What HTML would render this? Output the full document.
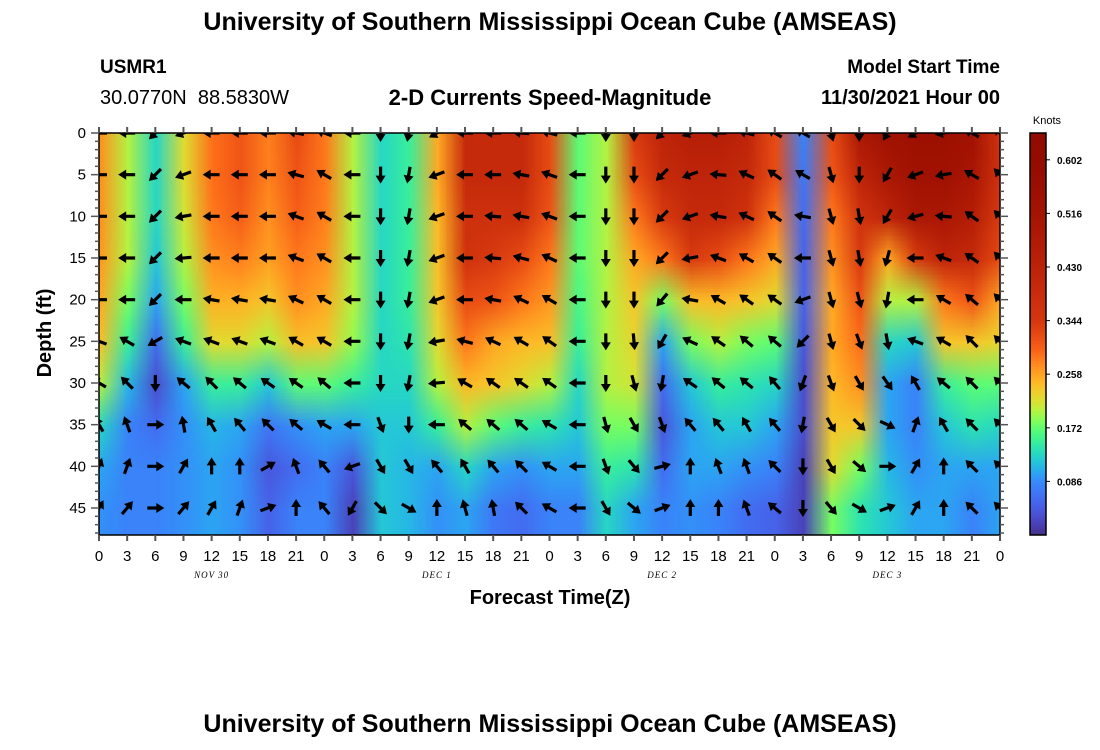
<!DOCTYPE html>
<html><head><meta charset="utf-8">
<style>
body{margin:0;background:#fff;width:1100px;height:750px;overflow:hidden;font-family:"Liberation Sans",sans-serif;}
#wrap{position:relative;width:1100px;height:750px;}
.t{position:absolute;white-space:nowrap;color:#000;}
</style></head><body>
<div id="wrap">
<div class="t" style="left:0;width:1100px;text-align:center;top:8px;font-size:25px;font-weight:bold;">University of Southern Mississippi Ocean Cube (AMSEAS)</div>
<div class="t" style="left:100px;top:57px;font-size:19px;font-weight:bold;">USMR1</div>
<div class="t" style="left:100px;top:87px;font-size:20px;">30.0770N&nbsp; 88.5830W</div>
<div class="t" style="left:0;width:1100px;text-align:center;top:85px;font-size:22px;font-weight:bold;">2-D Currents Speed-Magnitude</div>
<div class="t" style="right:100px;top:57px;font-size:19px;font-weight:bold;">Model Start Time</div>
<div class="t" style="right:100px;top:87px;font-size:20px;font-weight:bold;">11/30/2021 Hour 00</div>
<div class="t" style="left:0;width:1100px;text-align:center;top:710px;font-size:25px;font-weight:bold;">University of Southern Mississippi Ocean Cube (AMSEAS)</div>
<canvas id="heat" width="1100" height="750" style="position:absolute;left:0;top:0"></canvas>
<svg id="svg" width="1100" height="750" style="position:absolute;left:0;top:0"></svg>
</div>
<script>
const hours=[0,3,6,9,12,15,18,21,24,27,30,33,36,39,42,45,48,51,54,57,60,63,66,69,72,75,78,81,84,87,90,93,96];
const depths=[0,5,10,15,20,25,30,35,40,45];
const speed=[
[0.27,0.27,0.27,0.265,0.255,0.24,0.2,0.13,0.1,0.09],
[0.2,0.2,0.2,0.2,0.18,0.15,0.11,0.08,0.08,0.08],
[0.13,0.13,0.13,0.12,0.1,0.06,0.03,0.06,0.08,0.08],
[0.22,0.22,0.21,0.2,0.18,0.15,0.1,0.09,0.09,0.09],
[0.29,0.29,0.285,0.27,0.25,0.22,0.15,0.11,0.1,0.1],
[0.31,0.31,0.30,0.28,0.25,0.22,0.15,0.1,0.09,0.09],
[0.28,0.28,0.27,0.26,0.235,0.2,0.12,0.07,0.04,0.05],
[0.32,0.31,0.30,0.285,0.27,0.24,0.17,0.09,0.06,0.08],
[0.285,0.285,0.28,0.27,0.255,0.235,0.17,0.1,0.08,0.08],
[0.2,0.2,0.2,0.2,0.2,0.19,0.15,0.1,0.04,0.02],
[0.13,0.13,0.13,0.13,0.13,0.13,0.13,0.12,0.12,0.12],
[0.15,0.15,0.15,0.15,0.15,0.14,0.13,0.12,0.11,0.11],
[0.255,0.255,0.245,0.24,0.235,0.22,0.2,0.15,0.1,0.09],
[0.40,0.40,0.37,0.36,0.32,0.285,0.245,0.2,0.13,0.1],
[0.40,0.40,0.37,0.34,0.31,0.255,0.235,0.17,0.1,0.07],
[0.40,0.40,0.37,0.32,0.285,0.245,0.22,0.15,0.09,0.06],
[0.32,0.32,0.31,0.285,0.265,0.24,0.2,0.14,0.1,0.08],
[0.17,0.17,0.17,0.17,0.16,0.15,0.13,0.12,0.1,0.08],
[0.2,0.2,0.2,0.2,0.2,0.2,0.2,0.18,0.15,0.13],
[0.34,0.32,0.285,0.255,0.235,0.225,0.21,0.18,0.14,0.1],
[0.42,0.40,0.34,0.285,0.18,0.1,0.06,0.04,0.06,0.08],
[0.45,0.42,0.40,0.34,0.24,0.18,0.12,0.1,0.1,0.09],
[0.45,0.42,0.40,0.32,0.245,0.2,0.15,0.12,0.1,0.08],
[0.42,0.40,0.36,0.285,0.235,0.18,0.14,0.12,0.09,0.06],
[0.32,0.32,0.285,0.255,0.22,0.17,0.13,0.1,0.08,0.05],
[0.08,0.07,0.06,0.05,0.05,0.04,0.03,0.03,0.02,0.02],
[0.32,0.31,0.285,0.27,0.255,0.255,0.245,0.235,0.22,0.18],
[0.49,0.42,0.36,0.34,0.31,0.29,0.27,0.235,0.18,0.14],
[0.53,0.49,0.42,0.255,0.2,0.13,0.1,0.1,0.11,0.12],
[0.55,0.53,0.49,0.34,0.2,0.12,0.08,0.08,0.09,0.1],
[0.55,0.53,0.49,0.42,0.285,0.235,0.15,0.12,0.1,0.1],
[0.53,0.50,0.45,0.40,0.31,0.235,0.17,0.14,0.1,0.08],
[0.36,0.36,0.34,0.32,0.255,0.225,0.17,0.13,0.1,0.1]];
const direction=[
[270,270,270,270,270,290,300,330,20,30],
[270,270,270,270,270,300,315,340,20,40],
[225,225,225,225,225,240,180,90,90,90],
[250,250,260,265,270,290,310,350,30,40],
[270,270,270,270,280,290,315,330,0,30],
[270,270,270,270,280,290,310,320,0,20],
[270,270,270,270,280,290,305,315,60,70],
[280,285,290,290,295,300,305,310,340,0],
[290,300,300,300,300,300,310,300,320,320],
[270,270,270,270,270,270,270,270,250,210],
[180,180,180,180,180,180,180,160,150,135],
[190,190,190,190,190,190,190,180,150,120],
[240,250,250,250,250,260,265,270,320,0],
[270,270,270,270,270,285,300,310,330,345],
[270,270,275,275,280,295,305,310,320,350],
[275,280,280,285,295,300,305,310,315,315],
[285,290,290,295,300,305,305,300,300,300],
[270,270,270,270,270,270,270,270,270,270],
[180,180,180,180,180,180,180,165,160,150],
[180,180,180,180,180,175,165,150,140,130],
[225,225,225,225,220,210,190,160,75,70],
[250,250,250,260,280,295,305,320,0,0],
[270,275,280,290,300,305,310,320,340,0],
[285,295,295,300,305,310,310,330,340,340],
[300,305,305,305,305,310,320,320,315,310],
[300,300,280,270,250,225,200,190,180,180],
[165,165,165,165,165,165,160,150,150,140],
[180,180,170,170,165,160,150,135,130,120],
[210,210,210,195,190,170,145,115,90,70],
[240,250,255,270,270,290,330,20,30,30],
[260,260,275,290,300,300,310,330,0,0],
[300,300,305,305,310,315,315,315,315,315],
[315,315,315,315,315,315,315,315,315,315]];
const xTickLabels=["0","3","6","9","12","15","18","21"];
const yTicks=[0,5,10,15,20,25,30,35,40,45];
const dayLabels=["NOV 30","DEC 1","DEC 2","DEC 3"];
const cbTicks=[0.086,0.172,0.258,0.344,0.430,0.516,0.602];

const PX0=99,PX1=1000,PY0=133,PY1=535,DMAX=48.24,VMAX=0.645;
const x=h=>PX0+h/96*(PX1-PX0);
const y=d=>PY0+d/DMAX*(PY1-PY0);
function turbo(t){t=Math.max(0,Math.min(1,t));
 const r=34.61+t*(1172.33-t*(10793.56-t*(33300.12-t*(38394.49-t*14825.05))));
 const g=23.31+t*(557.33+t*(1225.33-t*(3574.96-t*(1073.77+t*707.56))));
 const b=27.2+t*(3211.1-t*(15327.97-t*(27814-t*(22569.18-t*6838.66))));
 return [r,g,b].map(v=>Math.max(0,Math.min(255,Math.round(v))));}
const KV=[0,0.086,0.13,0.172,0.21,0.258,0.30,0.344,0.645];
const KT=[0.04,0.17,0.3,0.43,0.58,0.7,0.8,0.86,0.99];
function col(v){v=Math.max(0,Math.min(VMAX,v));let i=0;while(i<KV.length-2&&v>KV[i+1])i++;
 const f=(v-KV[i])/(KV[i+1]-KV[i]);return turbo(KT[i]+f*(KT[i+1]-KT[i]));}

const cv=document.getElementById('heat'),ctx=cv.getContext('2d');
const nx=hours.length,ny=depths.length;
const off=document.createElement('canvas');off.width=nx;off.height=ny+1;
const oc=off.getContext('2d');const img=oc.createImageData(nx,ny+1);
for(let i=0;i<nx;i++)for(let j=0;j<=ny;j++){const c=col(speed[i][Math.min(j,ny-1)]);const k=(j*nx+i)*4;img.data[k]=c[0];img.data[k+1]=c[1];img.data[k+2]=c[2];img.data[k+3]=255;}
oc.putImageData(img,0,0);
ctx.save();ctx.beginPath();ctx.rect(PX0,PY0,PX1-PX0,PY1-PY0);ctx.clip();
ctx.imageSmoothingEnabled=true;
const dy=(depths[1]-depths[0]);
const srcH=ny-1+(DMAX-depths[ny-1])/dy;
ctx.drawImage(off,0.5,0.5,nx-1,srcH,x(hours[0]),y(depths[0]),x(hours[nx-1])-x(hours[0]),y(DMAX)-y(depths[0]));
ctx.restore();
const CBX=1030,CBW=16;
for(let p=PY0;p<PY1;p++){const v=(PY1-p)/(PY1-PY0)*VMAX;const c=col(v);ctx.fillStyle=`rgb(${c})`;ctx.fillRect(CBX,p,CBW,1);}

const S=document.getElementById('svg'),NS='http://www.w3.org/2000/svg';
function el(t,a,p){const e=document.createElementNS(NS,t);for(const k in a)e.setAttribute(k,a[k]);(p||S).appendChild(e);return e;}
const cp=el('clipPath',{id:'pc'});el('rect',{x:PX0,y:PY0,width:PX1-PX0,height:PY1-PY0},cp);
const ag=el('g',{'clip-path':'url(#pc)'});


for(let i=0;i<nx;i++)for(let j=0;j<ny;j++){
 const a=el('path',{d:'M-1.6,8 L1.6,8 L1.6,-1 L5,-1 L0,-9 L-5,-1 L-1.6,-1 Z',fill:'#000',transform:`translate(${x(hours[i])},${y(depths[j])}) rotate(${direction[i][j]})`},ag);
 
 
}
el('rect',{x:PX0,y:PY0,width:PX1-PX0,height:PY1-PY0,fill:'none',stroke:'#000','stroke-width':1.5});
el('rect',{x:CBX,y:PY0,width:CBW,height:PY1-PY0,fill:'none',stroke:'#000','stroke-width':1.5});
for(let h=0;h<=96;h+=3){const xx=x(h);
 el('line',{x1:xx,y1:PY0,x2:xx,y2:PY0-6,stroke:'#555','stroke-width':2});
 el('line',{x1:xx,y1:PY1,x2:xx,y2:PY1+6,stroke:'#555','stroke-width':2});
 const t=el('text',{x:xx,y:561,'font-size':15,'text-anchor':'middle','font-family':'Liberation Sans'});t.textContent=xTickLabels[(h/3)%8];
 
 
}
dayLabels.forEach((d,i)=>{const t=el('text',{x:x(12+24*i),y:578,'font-size':9,'font-style':'italic','text-anchor':'middle','font-family':'Liberation Serif','letter-spacing':'1'});t.textContent=d;
 
 });
for(let d=0;d<=48;d++){const yy=y(d);const L=d%5==0?8:4;
 el('line',{x1:PX0,y1:yy,x2:PX0-L,y2:yy,stroke:'#555','stroke-width':1.5});
 el('line',{x1:PX1,y1:yy,x2:PX1+L,y2:yy,stroke:'#555','stroke-width':1.5});}
yTicks.forEach(d=>{const t=el('text',{x:86,y:y(d)+5,'font-size':15,'text-anchor':'end','font-family':'Liberation Sans'});t.textContent=d;
 
 });
let t=el('text',{x:0,y:0,'font-size':20,'font-weight':'bold','text-anchor':'middle','font-family':'Liberation Sans',transform:`translate(51,${(PY0+PY1)/2-1}) rotate(-90)`});t.textContent='Depth (ft)';


t=el('text',{x:550,y:604,'font-size':20,'font-weight':'bold','text-anchor':'middle','font-family':'Liberation Sans'});t.textContent='Forecast Time(Z)';


const cy=v=>PY1-v/VMAX*(PY1-PY0);
cbTicks.forEach(v=>{el('line',{x1:CBX+CBW,y1:cy(v),x2:CBX+CBW+4,y2:cy(v),stroke:'#000'});
 const tt=el('text',{x:1057,y:cy(v)+4,'font-size':10,'font-weight':'bold','font-family':'Liberation Sans'});tt.textContent=v.toFixed(3);
 
 });
t=el('text',{x:1047,y:124,'font-size':11,'text-anchor':'middle','font-family':'Liberation Sans'});t.textContent='Knots';


</script>
</body></html>
